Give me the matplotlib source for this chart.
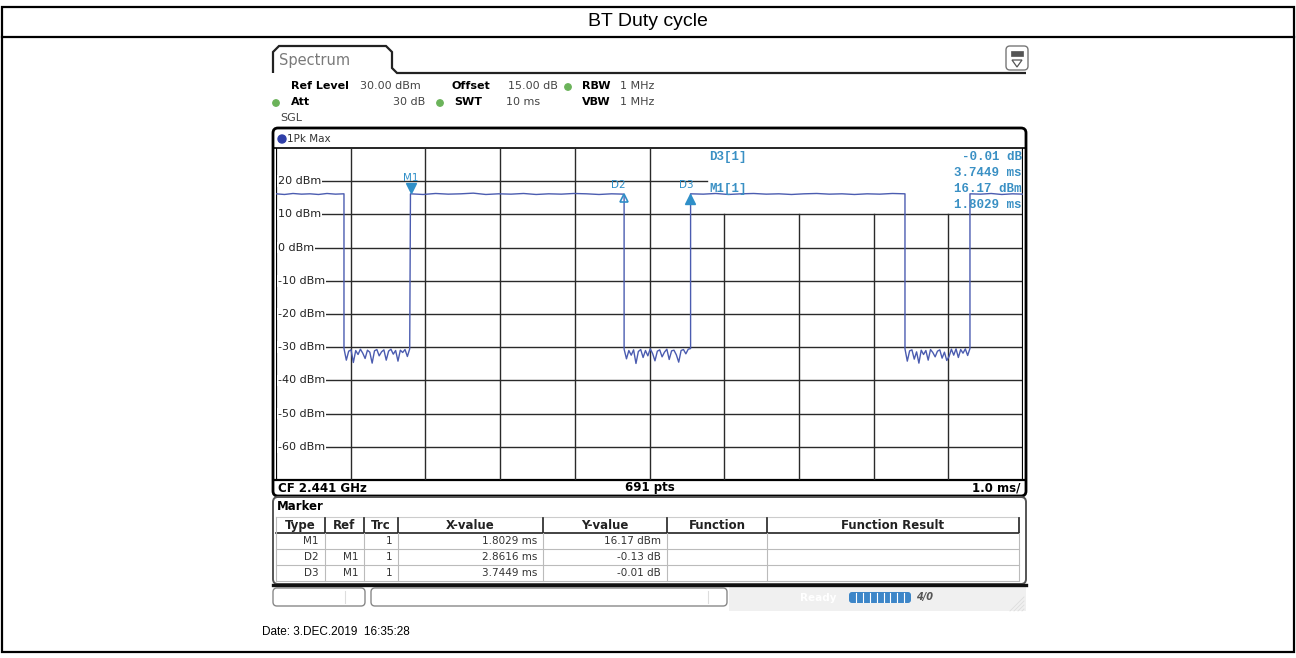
import numpy as np
import matplotlib
matplotlib.use("Agg")
import matplotlib.pyplot as plt
from matplotlib.patches import FancyBboxPatch, Rectangle, Circle, Polygon
from matplotlib.path import Path
from matplotlib.patches import PathPatch

# ---------------- data ----------------
title = "BT Duty cycle"
y_ticks = [20, 10, 0, -10, -20, -30, -40, -50, -60]
y_tick_labels = ["20 dBm", "10 dBm", "0 dBm", "-10 dBm", "-20 dBm", "-30 dBm",
                 "-40 dBm", "-50 dBm", "-60 dBm"]
x_grid = [1, 2, 3, 4, 5, 6, 7, 8, 9]

# trace segments (ms start, ms end, dBm values sampled evenly)
high1_span = (0.00, 0.91)
high1_vals = [16.2, 16.0, 16.3, 16.1, 16.2, 16.0, 16.3, 16.1, 16.2]
low1_span = (0.91, 1.79)
low1_vals = [-30.4, -33.9, -31.2, -30.8, -34.6, -31.0, -32.2, -30.6, -31.8, -33.4,
             -30.9, -31.5, -34.8, -31.1, -30.7, -32.6, -31.4, -30.8, -33.9, -31.2,
             -30.6, -32.1, -31.0, -34.2, -30.9, -31.6, -30.7, -32.8, -30.5]
high2_span = (1.80, 4.66)
high2_vals = [16.2, 16.0, 16.3, 16.1, 16.2, 16.4, 16.0, 16.2, 16.1, 16.3, 16.0,
              16.2, 16.1, 16.3, 16.2, 16.0, 16.2, 16.1]
low2_span = (4.66, 5.55)
low2_vals = [-30.6, -33.5, -31.0, -32.4, -30.8, -34.9, -31.3, -30.7, -33.1, -31.0,
             -32.6, -30.5, -31.9, -34.1, -31.2, -30.8, -32.9, -31.5, -30.6, -33.7,
             -31.1, -30.9, -32.3, -34.5, -31.0, -30.7, -32.0, -30.6, -30.4]
high3_span = (5.55, 8.42)
high3_vals = [16.2, 16.1, 16.3, 16.0, 16.2, 16.3, 16.1, 16.2, 16.0, 16.2, 16.3,
              16.1, 16.2, 16.0, 16.2, 16.1, 16.3, 16.2]
low3_span = (8.42, 9.29)
low3_vals = [-30.5, -34.2, -31.1, -30.8, -33.6, -31.4, -34.8, -30.9, -32.2, -31.0,
             -33.9, -30.7, -31.6, -32.9, -31.2, -30.8, -33.3, -31.5, -34.0, -32.8,
             -30.6, -32.4, -30.5, -33.1, -30.7, -31.8, -30.5, -32.5, -30.4]
high4_span = (9.29, 10.0)
high4_vals = [16.2, 16.1, 16.3, 16.0, 16.2, 16.1]

marker_names = ["M1", "D2", "D3"]
marker_ref = ["", "M1", "M1"]
marker_trc = ["1", "1", "1"]
marker_x_ms = [1.8029, 2.8616, 3.7449]          # M1 absolute, D2/D3 relative to M1
marker_xval_text = ["1.8029 ms", "2.8616 ms", "3.7449 ms"]
marker_yval_text = ["16.17 dBm", "-0.13 dB", "-0.01 dB"]
marker_level = [16.17, 16.04, 16.16]

table_headers = ["Type", "Ref", "Trc", "X-value", "Y-value", "Function", "Function Result"]

# ---------------- style ----------------
TRACE = "#4b5cb0"
MKR = "#2f8fc8"
GREEN = "#6bb35a"
GRID = "#2a2a2a"
W, H = 1296, 658

fig = plt.figure(figsize=(W / 100, H / 100), dpi=100)
bg = fig.add_axes([0, 0, 1, 1])
bg.set_xlim(0, W)
bg.set_ylim(H, 0)
bg.axis("off")

SANS = "DejaVu Sans"
ARIAL = ["Liberation Sans"]

# outer document table
bg.add_patch(Rectangle((2, 7), 1292, 645, fill=False, lw=1.6, ec="black"))
bg.plot([2, 1294], [37, 37], color="black", lw=1.6)
bg.text(648, 22, title, ha="center", va="center", fontsize=14, family=ARIAL)
bg.text(262, 632, "Date: 3.DEC.2019  16:35:28", ha="left", va="center",
        fontsize=8.5, family=ARIAL)

# Spectrum tab
verts = [(273, 73), (273, 52), (279, 46), (386, 46), (392, 52), (392, 68),
         (397, 73), (1026, 73)]
codes = [Path.MOVETO] + [Path.LINETO] * 7
bg.add_patch(PathPatch(Path(verts, codes), fill=False, lw=1.6, ec="#222222"))
bg.text(279, 61, "Spectrum", ha="left", va="center", fontsize=10.5, color="#7a7a7a",
        family=SANS)
# top-right icon
bg.add_patch(FancyBboxPatch((1006, 46), 22, 24, boxstyle="round,pad=0,rounding_size=4",
                            fill=True, fc="white", ec="#777777", lw=1.0))
bg.add_patch(Rectangle((1011, 51), 12, 5, fc="#555555", ec="#555555", lw=0.5))
bg.add_patch(Polygon([(1012, 60), (1022, 60), (1017, 67)], closed=True, fill=False,
                     ec="#555555", lw=0.9))

# header info rows
hf = dict(fontsize=8, va="center", family=SANS)
bg.text(291, 86, "Ref Level", fontweight="bold", **hf)
bg.text(360, 86, "30.00 dBm", color="#444444", **hf)
bg.text(452, 86, "Offset", fontweight="bold", **hf)
bg.text(508, 86, "15.00 dB", color="#444444", **hf)
bg.add_patch(Circle((568, 87), 3.2, color=GREEN))
bg.text(582, 86, "RBW", fontweight="bold", **hf)
bg.text(620, 86, "1 MHz", color="#444444", **hf)
bg.add_patch(Circle((276, 103), 3.2, color=GREEN))
bg.text(291, 102, "Att", fontweight="bold", **hf)
bg.text(425, 102, "30 dB", color="#444444", ha="right", fontsize=8, va="center", family=SANS)
bg.add_patch(Circle((440, 103), 3.2, color=GREEN))
bg.text(454, 102, "SWT", fontweight="bold", **hf)
bg.text(540, 102, "10 ms", color="#444444", ha="right", fontsize=8, va="center", family=SANS)
bg.text(582, 102, "VBW", fontweight="bold", **hf)
bg.text(620, 102, "1 MHz", color="#444444", **hf)
bg.text(280, 118, "SGL", color="#444444", **hf)

# diagram frame
bg.add_patch(FancyBboxPatch((273, 128), 753, 368, boxstyle="round,pad=0,rounding_size=5",
                            fill=False, ec="black", lw=2.0))
bg.plot([274, 1025], [148, 148], color="black", lw=1.2)
bg.plot([274, 1025], [480, 480], color="black", lw=1.6)
bg.add_patch(Circle((282, 139), 4, color="#2f3fa8"))
bg.text(287, 139, "1Pk Max", **dict(fontsize=7.5, va="center", family=SANS, color="#333333"))
ff = dict(fontsize=8.5, va="center", family=SANS, fontweight="bold")
bg.text(278, 488, "CF 2.441 GHz", ha="left", **ff)
bg.text(650, 488, "691 pts", ha="center", **ff)
bg.text(1020, 488, "1.0 ms/", ha="right", **ff)

# ---------------- spectrum plot ----------------
x0, x1, y0, y1 = 276, 1023, 148, 480
ax = fig.add_axes([x0 / W, 1 - y1 / H, (x1 - x0) / W, (y1 - y0) / H])
ax.set_xlim(0, 10)
ax.set_ylim(-70, 30)
ax.axis("off")

box_x = 5.77   # left edge of the marker info area (ms)
for v in y_ticks:
    if v > 10:
        ax.plot([0, box_x], [v, v], color=GRID, lw=1.0, zorder=1)
    else:
        ax.plot([0, 10], [v, v], color=GRID, lw=1.0, zorder=1)
for xv in x_grid:
    top = 30 if xv <= 5 else 10
    ax.plot([xv, xv], [-70, top], color=GRID, lw=1.0, zorder=1)
ax.plot([0, 0], [-70, 30], color="black", lw=1.6, zorder=1)
ax.plot([10, 10], [-70, 30], color="black", lw=1.6, zorder=1)

for v, lab in zip(y_ticks, y_tick_labels):
    ax.text(0.03, v, lab, ha="left", va="center", fontsize=8, family=SANS, color="#222222",
            bbox=dict(fc="white", ec="none", pad=0.6), zorder=2)

# trace
segs = [(high1_span, high1_vals), (low1_span, low1_vals), (high2_span, high2_vals),
        (low2_span, low2_vals), (high3_span, high3_vals), (low3_span, low3_vals),
        (high4_span, high4_vals)]
tt, vv = [], []
for (a, b), vals in segs:
    t = np.linspace(a, b, len(vals))
    tt.extend(t)
    vv.extend(vals)
ax.plot(tt, vv, color=TRACE, lw=1.0, zorder=3)

# markers
m1x = marker_x_ms[0]
d2x = m1x + marker_x_ms[1]
d3x = m1x + marker_x_ms[2]
ax.plot([m1x], [marker_level[0] + 1.8], marker="v", ms=7, color=MKR, ls="none", zorder=4)
ax.plot([d2x], [marker_level[1] - 1.2], marker="^", ms=5.5, mfc="none", mec=MKR, mew=1.2,
        ls="none", zorder=4)
ax.plot([d3x], [marker_level[2] - 1.6], marker="^", ms=7, color=MKR, ls="none", zorder=4)
mf = dict(fontsize=7.5, family=SANS, color=MKR, ha="center", va="center", zorder=5)
ax.text(m1x, 21.0, marker_names[0], **mf)
ax.text(d2x - 0.08, 19.0, marker_names[1], **mf)
ax.text(d3x - 0.06, 19.0, marker_names[2], **mf)

# marker info box
inf = dict(fontsize=9, family=["Liberation Mono", "DejaVu Sans Mono"], fontweight="bold",
           color="#3a90c4", va="center", zorder=5)
ax.text(5.8, 27.4, "D3[1]", ha="left", **inf)
ax.text(9.98, 27.4, "-0.01 dB", ha="right", **inf)
ax.text(9.98, 22.6, "3.7449 ms", ha="right", **inf)
ax.text(5.8, 17.6, "M1[1]", ha="left", **inf)
ax.text(9.98, 17.6, "16.17 dBm", ha="right", **inf)
ax.text(9.98, 12.7, "1.8029 ms", ha="right", **inf)

# ---------------- marker table ----------------
bg.add_patch(FancyBboxPatch((273, 497), 753, 87, boxstyle="round,pad=0,rounding_size=5",
                            fill=False, ec="#555555", lw=1.4))
bg.plot([273, 1026], [585, 585], color="#111111", lw=2.4)
bg.text(277, 507, "Marker", fontsize=8.5, fontweight="bold", va="center", family=SANS)
cols = [276, 325, 364, 398, 543, 667, 767, 1019]
row_lines = [517, 533, 549, 565, 581]
bg.plot([276, 1019], [517, 517], color="#cccccc", lw=0.8)
bg.plot([276, 1019], [533, 533], color="#222222", lw=1.2)
for yl in row_lines[2:]:
    bg.plot([276, 1019], [yl, yl], color="#bbbbbb", lw=0.8)
for cx in cols[1:]:
    bg.plot([cx, cx], [518, 532], color="#222222", lw=1.2)
    bg.plot([cx, cx], [533, 581], color="#bbbbbb", lw=0.8)
bg.plot([276, 276], [517, 581], color="#bbbbbb", lw=0.8)
for i, h in enumerate(table_headers):
    bg.text((cols[i] + cols[i + 1]) / 2, 525.5, h, ha="center", va="center", fontsize=8.5,
            fontweight="bold", family=SANS, color="#222222")
tf = dict(fontsize=7.5, va="center", family=SANS, color="#333333", ha="right")
for r in range(3):
    yc = 541 + 16 * r
    bg.text(319, yc, marker_names[r], **tf)
    bg.text(358, yc, marker_ref[r], **tf)
    bg.text(392, yc, marker_trc[r], **tf)
    bg.text(537, yc, marker_xval_text[r], **tf)
    bg.text(661, yc, marker_yval_text[r], **tf)

# ---------------- status bar ----------------
bg.add_patch(FancyBboxPatch((273, 588), 92, 18, boxstyle="round,pad=0,rounding_size=4",
                            fill=False, ec="#888888", lw=1.0))
bg.plot([345, 345], [591, 603], color="#dddddd", lw=0.8)
bg.add_patch(FancyBboxPatch((371, 588), 356, 18, boxstyle="round,pad=0,rounding_size=4",
                            fill=False, ec="#888888", lw=1.0))
bg.plot([708, 708], [591, 603], color="#dddddd", lw=0.8)
bg.add_patch(Rectangle((729, 587), 297, 24, fc="#f0f0f0", ec="none"))
bg.text(800, 598, "Ready", fontsize=7.5, color="white", fontweight="bold", va="center",
        family=SANS)
bg.add_patch(FancyBboxPatch((849, 592), 62, 11, boxstyle="round,pad=0,rounding_size=3",
                            fc="#3d86c8", ec="none"))
for k in range(1, 9):
    bg.plot([849 + k * 6.9, 849 + k * 6.9], [593, 602], color="white", lw=0.8)
bg.text(916, 597, "4/0", fontsize=7, color="#555555", fontweight="bold", va="center",
        family=SANS, style="italic")
for k in range(4):
    bg.plot([1010 + 4 * k, 1024], [611, 597 + 4 * k], color="#dddddd", lw=0.6)

fig.savefig("out.png", dpi=100)
